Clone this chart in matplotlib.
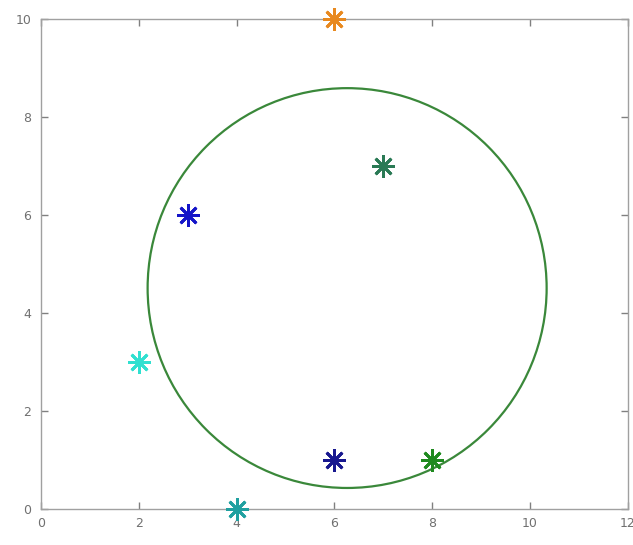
from matplotlib import pyplot as plt
from matplotlib.patches import Circle

# Points (x, y) and their colours
px = [6, 7, 3, 2, 6, 8, 4]
py = [10, 7, 6, 3, 1, 1, 0]
colors = ['#e8891f', '#2a7a55', '#1515c8', '#30e0d0', '#18188f', '#1f8a1f', '#20a0a0']

# Circle
circle_center = (6.26, 4.51)
circle_radius = 4.08

xticks = [0, 2, 4, 6, 8, 10, 12]
yticks = [0, 2, 4, 6, 8, 10]

fig = plt.figure(figsize=(6.33, 5.45), dpi=100)
ax = fig.add_axes([0.0648, 0.066, 0.927, 0.899])

# Circle
ax.add_patch(Circle(circle_center, circle_radius, fill=False,
                    edgecolor='#3a883a', linewidth=1.6, zorder=2))

# Asterisk markers
for x, y, c in zip(px, py, colors):
    ax.plot(x, y, linestyle='none', marker=(8, 2, 0), markersize=16,
            markeredgewidth=2.0, color=c, clip_on=False, zorder=3)

ax.set_xlim(0, 12)
ax.set_ylim(0, 10)
ax.set_xticks(xticks)
ax.set_yticks(yticks)

for side in ax.spines.values():
    side.set_color('#a0a0a0')
    side.set_linewidth(1.0)
ax.tick_params(direction='in', length=5, width=1.0, colors='#808080',
               labelcolor='#707070', labelsize=9, top=True, right=True)
ax.tick_params(axis='x', pad=6)
ax.tick_params(axis='y', pad=7)

fig.savefig('out.png', dpi=100)
